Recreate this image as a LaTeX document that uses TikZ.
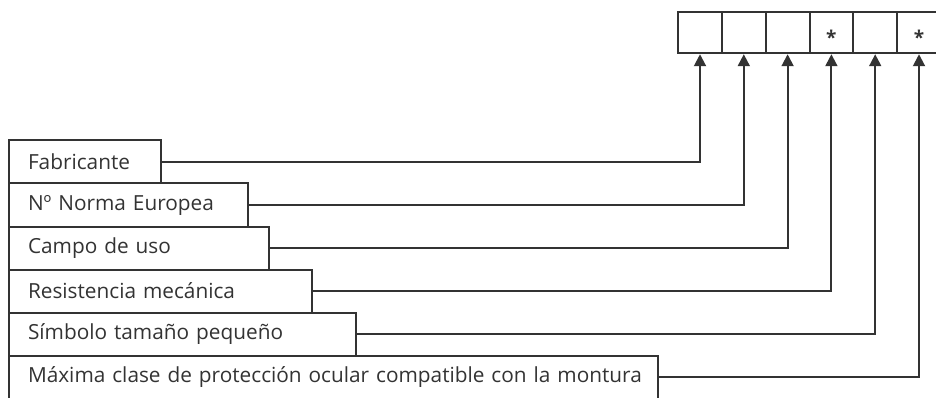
\documentclass[tikz,border=0pt]{standalone}
\usepackage{fontspec}
\setmainfont{Open Sans}
\usetikzlibrary{arrows.meta}
\definecolor{ink}{HTML}{333333}
\begin{document}
\begin{tikzpicture}[x=1pt,y=-1pt,
  every node/.style={font=\fontsize{20.8}{24}\selectfont, text=ink},
  lab/.style={draw=ink, line width=2pt, anchor=north west, minimum height=43pt,
    inner ysep=0pt, inner xsep=19pt, align=left},
  cell/.style={draw=ink, line width=2pt, minimum width=43.8pt, minimum height=41.5pt,
    inner sep=0pt},
  star/.style={font=\fontsize{19}{19}\selectfont\bfseries, text=ink},
  conn/.style={draw=ink, line width=2pt,
    -{Triangle[width=12pt,length=12pt]}}]
\useasboundingbox (0,0) rectangle (936,398);
% top row of cells
\node[cell] (c1) at (700,32.5) {};
\node[cell] (c2) at (743.8,32.5) {};
\node[cell] (c3) at (787.6,32.5) {};
\node[cell] (c4) at (831.4,32.5) {};
\node[cell] (c5) at (875.2,32.5) {};
\node[cell] (c6) at (919,32.5) {};
\node[star, anchor=center] (s4) at ([yshift=-5pt]c4.center) {*};
\node[star, anchor=center] (s6) at ([yshift=-5pt]c6.center) {*};
% label boxes
\node[lab, text width=114pt] (l1) at (8,139.5) {Fabricante};
\node[lab, text width=201pt] (l2) at (8,182.5) {Nº Norma Europea};
\node[lab, text width=222pt] (l3) at (8,225.5) {Campo de uso};
\node[lab, text width=265pt] (l4) at (8,268.5) {Resistencia mecánica};
\node[lab, text width=309pt] (l5) at (8,311.5) {Símbolo tamaño pequeño};
\node[lab, text width=611pt] (l6) at (8,354.5) {\mbox{Máxima clase de protección ocular compatible con la montura}};
% connectors
\draw[conn] (l1.east) -| (c1.south);
\draw[conn] (l2.east) -| (c2.south);
\draw[conn] (l3.east) -| (c3.south);
\draw[conn] (l4.east) -| (c4.south);
\draw[conn] (l5.east) -| (c5.south);
\draw[conn] (l6.east) -| (c6.south);
\end{tikzpicture}
\end{document}
